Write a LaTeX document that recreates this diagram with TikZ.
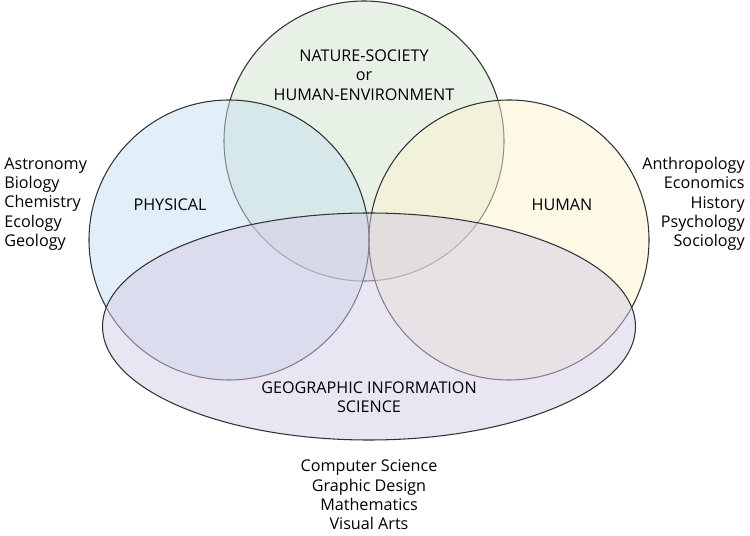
\documentclass[tikz,border=0pt]{standalone}
\usepackage{fontspec}
\setmainfont{Open Sans}
\definecolor{natfill}{RGB}{209,227,205}
\definecolor{physfill}{RGB}{199,223,241}
\definecolor{humfill}{RGB}{253,241,205}
\definecolor{gisfill}{RGB}{211,203,229}
\definecolor{rimcol}{RGB}{50,50,50}
\tikzset{
	field/.style={draw=rimcol,line width=0.6pt,fill opacity=0.5},
	lbl/.style={inner sep=0pt,align=center,font=\fontsize{9.2}{11}\selectfont},
}
\begin{document}
\begin{tikzpicture}[x=0.02cm,y=-0.02cm]

	% page
	\useasboundingbox (0,0) rectangle (750,536);

	% nature-society
	\draw[field,fill=natfill] (364,141) circle[radius=140];

	% physical and human
	\draw[field,fill=physfill] (229,240) circle[radius=140];
	\draw[field,fill=humfill] (509,240) circle[radius=140];

	% gis
	\draw[field,fill=gisfill] (369,326.5) ellipse[x radius=266.5,y radius=113.5];

	% field labels
	\node[lbl] (natsoc) at (364,75) {NATURE-SOCIETY\\or\\HUMAN-ENVIRONMENT};
	\node[lbl] (phys) at (170,205) {PHYSICAL};
	\node[lbl] (hum) at (562,205) {HUMAN};
	\node[lbl] (gis) at (369,397) {GEOGRAPHIC INFORMATION\\SCIENCE};

	% related disciplines
	\node[lbl,align=left,anchor=west] (physlist) at (4,204)
		{Astronomy\\Biology\\Chemistry\\Ecology\\Geology};
	\node[lbl,align=right,anchor=east] (humlist) at (745,204)
		{Anthropology\\Economics\\History\\Psychology\\Sociology};
	\node[lbl] (gislist) at (369,495)
		{Computer Science\\Graphic Design\\Mathematics\\Visual Arts};

\end{tikzpicture}
\end{document}
